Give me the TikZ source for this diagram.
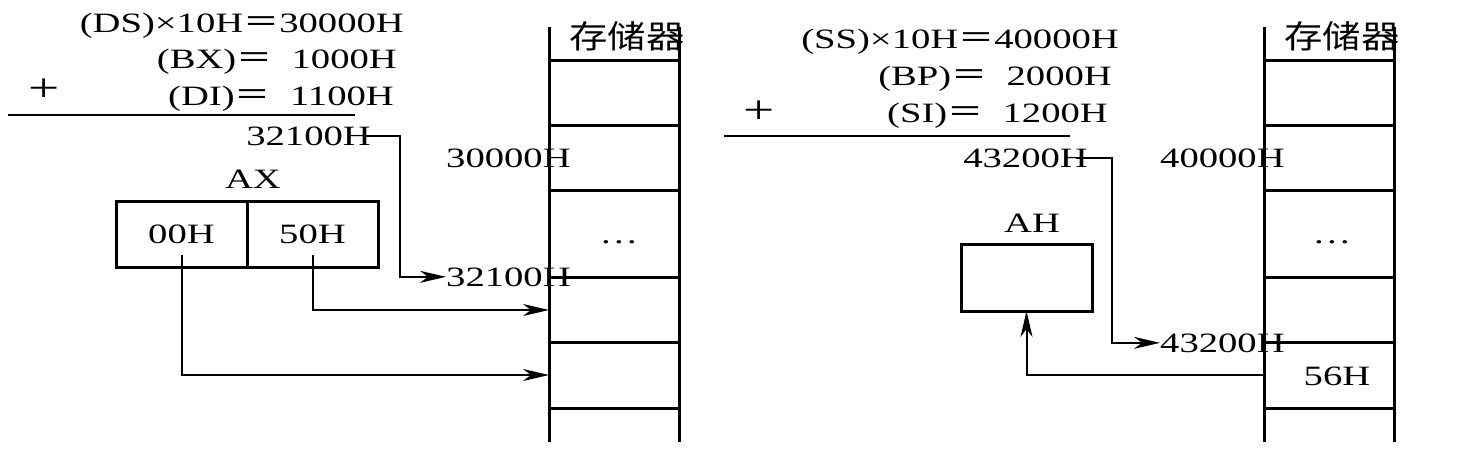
\documentclass[tikz,border=0pt]{standalone}
\usepackage{fontspec}
\setmainfont{Liberation Serif}[FakeStretch=1.38]
\newfontfamily\cjk{Noto Sans CJK SC}[FakeStretch=1.2]
\usetikzlibrary{positioning,calc,arrows.meta}
\newcommand{\eqsign}{{\cjk\fontsize{30}{36}\selectfont ＝}}

\begin{document}
\begin{tikzpicture}[x=1pt, y=-1pt, >={Stealth[length=26pt,width=12pt,inset=8pt]},
  txt/.style={inner sep=0pt, font=\fontsize{28}{34}\selectfont},
  hanzi/.style={inner sep=0pt, font=\cjk\fontsize{32}{38}\selectfont},
  reg/.style={draw, line width=3pt, outer sep=0pt, inner sep=0pt, minimum width=131pt, minimum height=66pt, font=\fontsize{28}{34}\selectfont},
  conn/.style={line width=2pt},
  mem/.style={line width=3pt}]
  \useasboundingbox (0,0) rectangle (1475,450);

  % memory columns
  \foreach \mx in {549,1264} {
    \draw[mem] (\mx,27) -- (\mx,442) (\mx+130,27) -- (\mx+130,442);
    \foreach \y in {60,125,190,277,342,408}
      \draw[mem] (\mx,\y) -- (\mx+130,\y);
  }

  % left: DS:[BX+DI]
  \node[txt, anchor=base east] (ds) at (404,32) {(DS)×10H\eqsign30000H};
  \node[txt, anchor=base east] (bx) at (397,68) {(BX)\eqsign\ \ 1000H};
  \node[txt, anchor=base east] (di) at (394,105) {(DI)\eqsign\ \ 1100H};
  \node[txt, font=\fontsize{40}{48}\selectfont] (plusL) at (44,90) {+};
  \draw[conn] (8,115) -- (355,115);
  \node[txt, anchor=base east] (sumL) at (371,145) {32100H};

  \node[hanzi] (memL) at (627,36) {存储器};
  \node[txt, anchor=base west] (baseL) at (446,167) {30000H};
  \node[txt, anchor=base] (dotsL) at (619,243) {…};
  \node[txt, anchor=base west] (m32) at (446,286) {32100H};

  \node[reg] (hi) at (181.5,234) {00H};
  \node[reg, right=0pt of hi] (lo) {50H};
  \node[txt, anchor=base] (ax) at (253,188) {AX};

  \coordinate (cellA) at (549,310);
  \coordinate (cellB) at (549,375);
  \coordinate (bendL) at (400,200);
  \draw[conn,->] ([xshift=-8pt]sumL.east) -| (bendL) |- (m32.west);
  \draw[conn,->] ([yshift=12pt]lo.south) |- (cellA);
  \draw[conn,->] ([yshift=12pt]hi.south) |- (cellB);

  % right: SS:[BP+SI]
  \node[txt, anchor=base east] (ss) at (1119,48) {(SS)×10H\eqsign40000H};
  \node[txt, anchor=base east] (bp) at (1112,85) {(BP)\eqsign\ \ 2000H};
  \node[txt, anchor=base east] (si) at (1108,122) {(SI)\eqsign\ \ 1200H};
  \node[txt, font=\fontsize{40}{48}\selectfont] (plusR) at (759,112) {+};
  \draw[conn] (724,136) -- (1070,136);
  \node[txt, anchor=base east] (sumR) at (1088,167) {43200H};

  \node[hanzi] (memR) at (1342,36) {存储器};
  \node[txt, anchor=base west] (baseR) at (1160,167) {40000H};
  \node[txt, anchor=base] (dotsR) at (1332,243) {…};
  \node[txt, anchor=base west] (m43) at (1160,352) {43200H};
  \node[txt, anchor=base] (val) at (1337,385) {56H};

  \node[reg, minimum height=67pt] (ah) at (1026.5,277.5) {};
  \node[txt, anchor=base] (ahlbl) at (1032,232) {AH};

  \coordinate (cellR) at (1264,375);
  \coordinate (bendR) at (1112,250);
  \draw[conn,->] ([xshift=-12pt]sumR.east) -| (bendR) |- (m43.west);
  \draw[conn,->] (cellR) -| (ah.south);
\end{tikzpicture}
\end{document}
